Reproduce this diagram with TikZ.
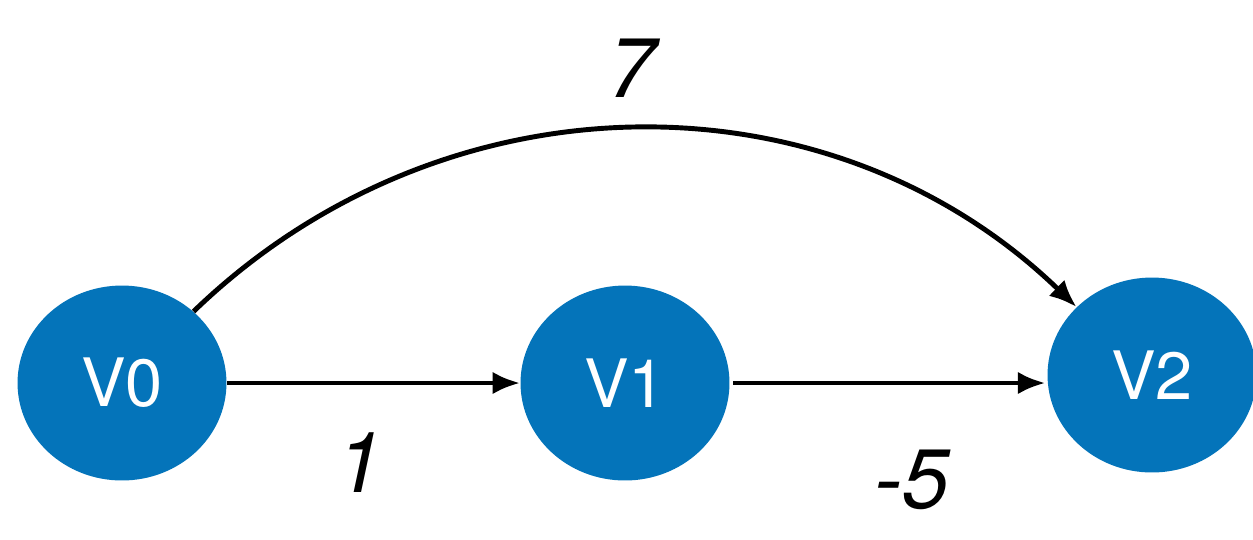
\documentclass[tikz,border=0pt]{standalone}
\usepackage{fontspec}
\setmainfont{TeX Gyre Heros}
\usetikzlibrary{arrows.meta,shapes.geometric}
\definecolor{vblue}{RGB}{4,116,186}

\begin{document}
\begin{tikzpicture}[x=0.02cm,y=-0.02cm,
  vertex/.style={ellipse,fill=vblue,text=white,inner sep=0pt,
    minimum width=4.18cm,minimum height=3.9cm,font=\fontsize{38}{38}\selectfont},
  weight/.style={font=\fontsize{48}{48}\selectfont\itshape},
  arc/.style={line width=2.8pt,-{Latex[length=0.55cm,width=0.45cm]}}]
  \useasboundingbox (0,0) rectangle (1253,539);
  \node[vertex] (v0) at (122,383) {V0};
  \node[vertex] (v1) at (625,383) {V1};
  \node[vertex] (v2) at (1152,375) {V2};
  \node[weight] (w7) at (632,68) {7};
  \node[weight] (w1) at (360,463) {1};
  \node[weight] (w5) at (912,480) {-5};
  \draw[arc] (v0.east) -- (v1.west);
  \draw[arc,shorten <=2pt,shorten >=1pt] (v1.east) -- (v2.west |- v1.east);
  \draw[arc] (v0.45) to[out=44,in=136] (v2.138);
\end{tikzpicture}
\end{document}
